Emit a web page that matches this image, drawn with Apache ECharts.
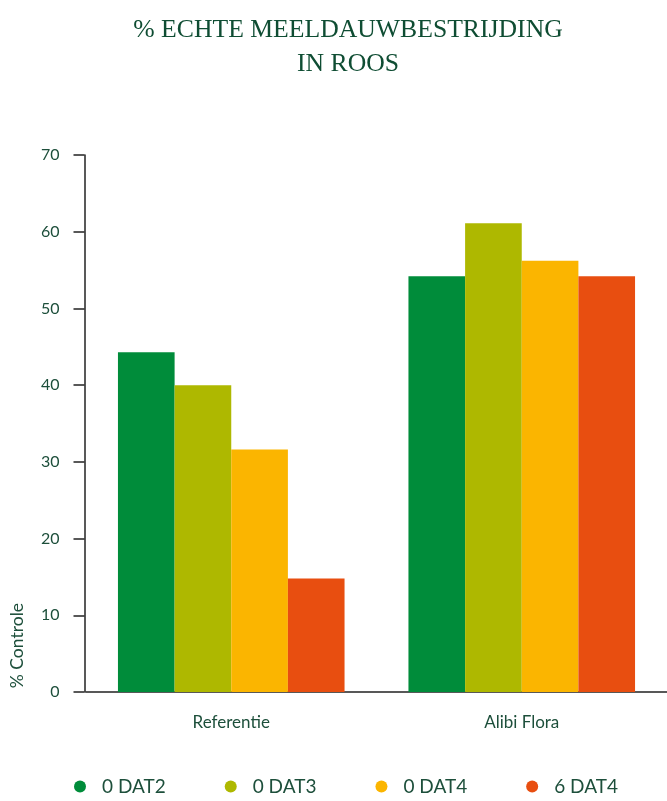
<!DOCTYPE html>
<html><head><meta charset="utf-8">
<script src="https://cdn.jsdelivr.net/npm/echarts@6/dist/echarts.min.js"></script>
<style>html,body{margin:0;padding:0;background:#fff}#c{width:667px;height:801px}</style>
</head><body><div id="c"></div>
<script>
const categories = ['Referentie', 'Alibi Flora'];
const seriesNames = ['0 DAT2', '0 DAT3', '0 DAT4', '6 DAT4'];
const dat2_0 = [44.3, 54.2];
const dat3_0 = [40.0, 61.1];
const dat4_0 = [31.6, 56.2];
const dat4_6 = [14.8, 54.2];
const yTicks = [0, 10, 20, 30, 40, 50, 60, 70];
const colors = ['#008C3A', '#AEB800', '#FBB500', '#E84E10'];
const txt = '#1d4f3b';
const font = 'Lato';
const values = [dat2_0, dat3_0, dat4_0, dat4_6];

const chart = echarts.init(document.getElementById('c'));
chart.setOption({
  animation: false,
  color: colors,
  title: {
    text: '% ECHTE MEELDAUWBESTRIJDING\nIN ROOS',
    left: 343, top: 8, textAlign: 'center',
    textStyle: { fontFamily: 'Liberation Serif', fontWeight: 'normal', fontSize: 25.7, lineHeight: 34, color: '#0f4d33', align: 'center' }
  },
  grid: { left: 86, top: 155, width: 585, height: 537, containLabel: false },
  xAxis: {
    type: 'category', data: categories,
    axisLine: { lineStyle: { color: '#222', width: 1.5 } },
    axisTick: { show: false },
    axisLabel: { color: txt, fontFamily: font, fontSize: 17, margin: 22 }
  },
  yAxis: {
    type: 'value', min: yTicks[0], max: yTicks[yTicks.length - 1], interval: 10,
    offset: 1.5,
    axisLine: { show: true, lineStyle: { color: '#222', width: 1.5 } },
    axisTick: { show: true, length: 11, lineStyle: { color: '#222', width: 1.5 } },
    splitLine: { show: false },
    axisLabel: { color: txt, fontFamily: font, fontSize: 16, margin: 25 }
  },
  legend: {
    bottom: 0, left: 69,
    icon: 'circle', itemWidth: 12, itemHeight: 12, itemGap: 59,
    textStyle: { color: txt, fontFamily: font, fontSize: 19, padding: [0, 0, 0, 11] },
    data: seriesNames
  },
  graphic: [{
    type: 'text', left: 8, top: 603, rotation: Math.PI / 2,
    style: { text: '% Controle', fill: txt, font: '17.5px Lato' }
  }],
  series: seriesNames.map((n, i) => ({
    name: n, type: 'bar', data: values[i],
    barGap: '0%', barCategoryGap: '22%'
  }))
});
</script></body></html>
